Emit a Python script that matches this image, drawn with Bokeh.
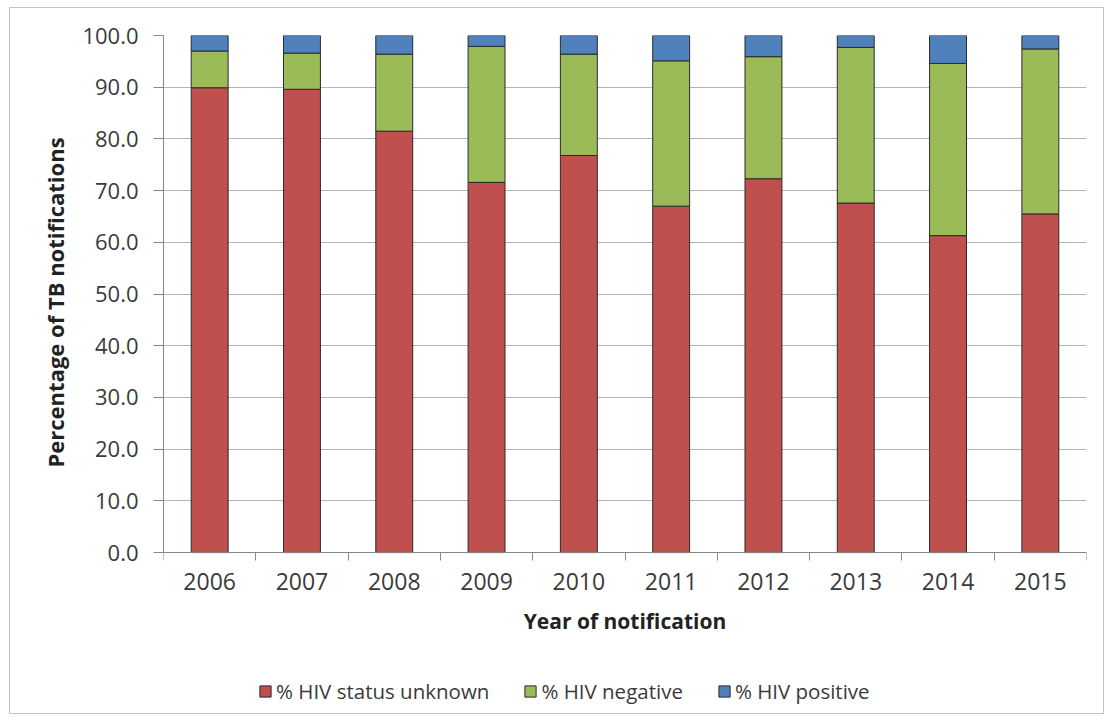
from bokeh.plotting import figure
from bokeh.models import (ColumnDataSource, Range1d, FixedTicker, SingleIntervalTicker,
                          PrintfTickFormatter, Legend, LegendItem, Title)
from bokeh.embed import file_html
from bokeh.resources import INLINE

# Year of notification
years = [2006, 2007, 2008, 2009, 2010, 2011, 2012, 2013, 2014, 2015]

# Share of TB notifications (%) by HIV status
hiv_unknown = [89.9, 89.6, 81.5, 71.6, 76.8, 67.0, 72.3, 67.6, 61.3, 65.5]
hiv_negative = [7.1, 7.0, 14.9, 26.3, 19.6, 28.1, 23.6, 30.1, 33.3, 31.9]
hiv_positive = [3.0, 3.4, 3.6, 2.1, 3.6, 4.9, 4.1, 2.3, 5.4, 2.6]

series_labels = ["% HIV status unknown", "% HIV negative", "% HIV positive"]
series_colors = ["#C0504D", "#9BBB59", "#4F81BD"]

FONT = "Open Sans"
TEXT = "#3a3a3a"
AXIS = "#868686"
GRID = "#b4b4b4"

source = ColumnDataSource(dict(year=years, unknown=hiv_unknown,
                               negative=hiv_negative, positive=hiv_positive))

# The frame runs down to the bottom of the chart so the legend can sit
# beneath the x axis; the x axis itself is pinned at y = 0.
p = figure(width=1095, height=707, output_backend="svg", toolbar_location=None,
           x_range=Range1d(years[0] - 0.5, years[-1] + 0.5),
           y_range=Range1d(-31.5, 100),
           min_border_left=153, min_border_right=19, min_border_top=27,
           min_border_bottom=0)
p.margin = (7, 0, 0, 9)
p.styles = {"border": "1px solid #c4c4c4"}
p.outline_line_color = None
p.background_fill_color = "white"
p.border_fill_color = "white"

bars = p.vbar_stack(["unknown", "negative", "positive"], x="year", width=0.4,
                    source=source, fill_color=series_colors,
                    line_color="#2b2b2b", line_width=1)

# x axis: year labels at bar centres, tick marks between categories
boundaries = [y - 0.5 for y in years] + [years[-1] + 0.5]
xa = p.xaxis[0]
xa.fixed_location = 0
xa.ticker = FixedTicker(ticks=years, minor_ticks=boundaries)
xa.major_tick_line_color = None
xa.major_tick_out = 0
xa.major_tick_in = 0
xa.minor_tick_line_color = AXIS
xa.minor_tick_out = 8
xa.minor_tick_in = 0
xa.axis_line_color = AXIS
xa.major_label_text_font = FONT
xa.major_label_text_font_size = "23px"
xa.major_label_text_color = TEXT
xa.major_label_standoff = 12
xa.axis_label = "Year of notification"
xa.axis_label_text_font = FONT
xa.axis_label_text_font_style = "bold"
xa.axis_label_text_font_size = "21px"
xa.axis_label_text_color = "#222222"
xa.axis_label_standoff = 14

ya = p.yaxis[0]
ya.bounds = (0, 100)
ya.ticker = SingleIntervalTicker(interval=10, num_minor_ticks=0)
ya.formatter = PrintfTickFormatter(format="%.1f")
ya.major_tick_out = 10
ya.major_tick_in = 0
ya.major_tick_line_color = AXIS
ya.minor_tick_line_color = None
ya.axis_line_color = AXIS
ya.major_label_text_font = FONT
ya.major_label_text_font_size = "22px"
ya.major_label_text_color = TEXT
ya.major_label_standoff = 15

p.xgrid.grid_line_color = None
p.ygrid.bounds = (0, 100)
p.ygrid.grid_line_color = GRID
p.ygrid.grid_line_width = 1

# y-axis title, kept level with the 0-100 part of the frame
y_title = Title(text="Percentage of TB notifications", align="left", offset=248,
                text_font=FONT, text_font_style="bold", text_font_size="22px",
                text_color="#222222", standoff=20)
p.add_layout(y_title, "left")

legend = Legend(items=[LegendItem(label=lab, renderers=[r])
                       for lab, r in zip(series_labels, bars)],
                orientation="horizontal", location=(95, 10),
                padding=0, margin=0, spacing=34, label_standoff=4,
                glyph_width=14, glyph_height=14,
                label_text_font=FONT, label_text_font_size="20.5px",
                label_text_color=TEXT,
                background_fill_alpha=0, border_line_color=None)
p.add_layout(legend, "center")

open("out.html", "w").write(file_html(p, INLINE))
